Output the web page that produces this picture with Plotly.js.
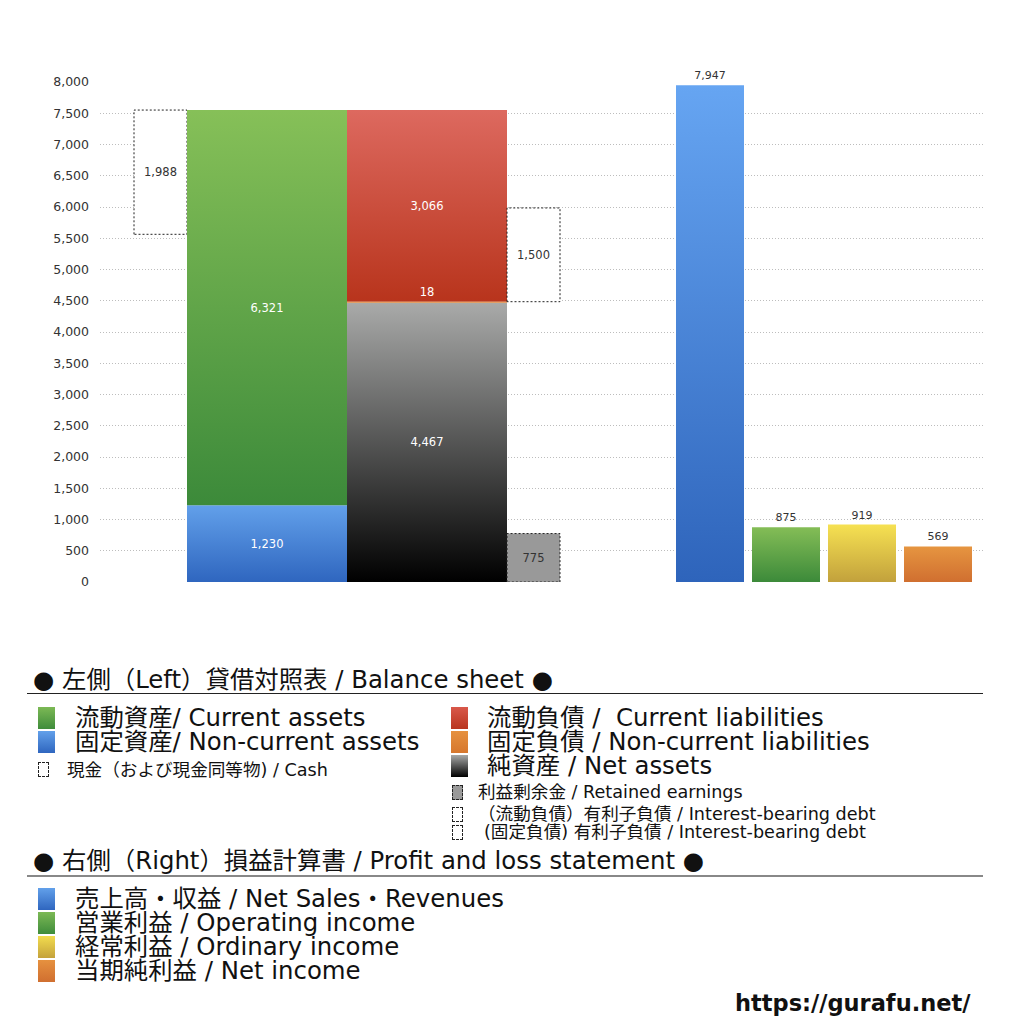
<!DOCTYPE html>
<html>
<head>
<meta charset="utf-8">
<script src="https://cdn.plot.ly/plotly-3.0.1.min.js"></script>
<style>
  body { margin: 0; background: #fff; }
  #wrap { position: relative; width: 1024px; height: 1024px; overflow: hidden;
    font-family: "DejaVu Sans", "Noto Sans CJK JP", sans-serif; color: #111; }
  #chart { position: absolute; left: 0; top: 0; width: 1024px; height: 1024px; }
  .t { position: absolute; white-space: nowrap; }
  .big { font-size: 24.4px; line-height: 24px; height: 24px; }
  .head { font-size: 24.4px; line-height: 26px; }
  .small { font-size: 17.6px; line-height: 18px; height: 18px; }
  .sw { position: absolute; width: 17px; height: 22px; }
  .dsw { position: absolute; width: 11px; height: 15px; border: 1px dashed #222; box-sizing: border-box; }
  .rule { position: absolute; left: 27px; width: 956px; }
</style>
</head>
<body>
<div id="wrap">
  <div id="chart"></div>

  <div class="t head" style="left:33px; top:667px;">● 左側（Left）貸借対照表 / Balance sheet ●</div>
  <div class="rule" style="top:693px; border-top:1px solid #222;"></div>

  <div class="sw" style="left:38px; top:707px; background:linear-gradient(#7cb955,#3f8c3b);"></div>
  <div class="t big" style="left:75px; top:706px;">流動資産/ Current assets</div>
  <div class="sw" style="left:38px; top:731px; background:linear-gradient(#62a0ea,#2f66bf);"></div>
  <div class="t big" style="left:75px; top:730px;">固定資産/ Non-current assets</div>
  <div class="dsw" style="left:38px; top:762px;"></div>
  <div class="t small" style="left:67px; top:761px;">現金（および現金同等物) / Cash</div>

  <div class="sw" style="left:451px; top:707px; background:linear-gradient(#d9584a,#b9351f);"></div>
  <div class="t big" style="left:487px; top:706px;">流動負債 /&nbsp; Current liabilities</div>
  <div class="sw" style="left:451px; top:731px; background:linear-gradient(#e6913f,#d6772e);"></div>
  <div class="t big" style="left:487px; top:730px;">固定負債 / Non-current liabilities</div>
  <div class="sw" style="left:451px; top:755px; background:linear-gradient(#a8a9a8,#000);"></div>
  <div class="t big" style="left:487px; top:754px;">純資産 / Net assets</div>
  <div class="dsw" style="left:452px; top:785px; background:#999;"></div>
  <div class="t small" style="left:478px; top:783px;">利益剰余金 / Retained earnings</div>
  <div class="dsw" style="left:452px; top:807px;"></div>
  <div class="t small" style="left:478px; top:805px;">（流動負債）有利子負債 / Interest-bearing debt</div>
  <div class="dsw" style="left:452px; top:825px;"></div>
  <div class="t small" style="left:484px; top:823px;">(固定負債) 有利子負債 / Interest-bearing debt</div>

  <div class="t head" style="left:33px; top:848px;">● 右側（Right）損益計算書 / Profit and loss statement ●</div>
  <div class="rule" style="top:875px; border-top:2px solid #888;"></div>

  <div class="sw" style="left:38px; top:888px; background:linear-gradient(#62a0ea,#2f66bf);"></div>
  <div class="t big" style="left:75px; top:887px;">売上高・収益 / Net Sales・Revenues</div>
  <div class="sw" style="left:38px; top:912px; background:linear-gradient(#7cb955,#3f8c3b);"></div>
  <div class="t big" style="left:75px; top:911px;">営業利益 / Operating income</div>
  <div class="sw" style="left:38px; top:936px; background:linear-gradient(#f2dc4e,#c4a23c);"></div>
  <div class="t big" style="left:75px; top:935px;">経常利益 / Ordinary income</div>
  <div class="sw" style="left:38px; top:960px; background:linear-gradient(#e6913f,#d06f30);"></div>
  <div class="t big" style="left:75px; top:959px;">当期純利益 / Net income</div>

  <div class="t" style="left:735px; top:990px; font-size:22.5px; font-weight:bold;">https://gurafu.net/</div>
</div>

<script>
/* balance sheet (left) and profit & loss (right) */
const assetNames = ['固定資産', '流動資産'];
const assetValues = [1230, 6321];
const claimNames = ['純資産', '固定負債', '流動負債'];
const claimValues = [4467, 18, 3066];
const cashValue = 1988;
const debtValue = 1500;
const retainedValue = 775;
const plNames = ['売上高・収益', '営業利益', '経常利益', '当期純利益'];
const plValues = [7947, 875, 919, 569];

const FONT = '"DejaVu Sans", "Noto Sans CJK JP", sans-serif';
const fmt = v => v.toLocaleString('en-US');

// x layout in plot pixels (plot area 885 px wide)
const X_CASH = 60.5, W_SIDE = 53;
const X_ASSET = 167, X_CLAIM = 327, W_MAIN = 160;
const X_DEBT = 433.5;
const X_PL0 = 610, PL_STEP = 76, W_PL = 68;

// gradient per trace (top -> bottom); null = flat / dashed box
const grads = [];
const traces = [];

function addBar(name, x, w, base, v, opt) {
  traces.push(Object.assign({
    type: 'bar', name: name, x: [x], y: [v], base: [base], width: [w],
    text: [fmt(v)], textposition: 'inside', insidetextanchor: 'middle',
    textangle: 0, constraintext: 'none', cliponaxis: false,
    textfont: { family: FONT, size: 11.5, color: '#fff' },
    marker: { color: opt.color || '#fff', line: { width: 0 } },
    hoverinfo: 'name+y',
  }, opt.extra || {}));
  grads.push(opt);
}

const assetTotal = assetValues.reduce((a, b) => a + b, 0);
const darkText = { family: FONT, size: 11.5, color: '#333' };

// cash box, aligned to the top of total assets
addBar('現金', X_CASH, W_SIDE, assetTotal - cashValue, cashValue,
  { dashed: true, extra: { textfont: darkText } });

// assets column
const assetGrad = [['#62a0ea', '#2f66bf'], ['#86c058', '#3c8a3a']];
let b = 0;
assetValues.forEach((v, i) => {
  addBar(assetNames[i], X_ASSET, W_MAIN, b, v, { color: assetGrad[i][1], g: assetGrad[i] });
  b += v;
});

// liabilities + net assets column; the thin one is drawn last so its label stays on top
const claimGrad = [['#a9aaa9', '#000000'], null, ['#dd695f', '#b8341c']];
const claimBase = [];
b = 0;
claimValues.forEach(v => { claimBase.push(b); b += v; });
[0, 2, 1].forEach(i => {
  const o = claimGrad[i] ? { color: claimGrad[i][1], g: claimGrad[i] } : { color: '#e0873a' };
  if (!claimGrad[i]) o.extra = { textposition: 'outside', textfont: { family: FONT, size: 11.5, color: '#fff' } };
  addBar(claimNames[i], X_CLAIM, W_MAIN, claimBase[i], claimValues[i], o);
});

// interest-bearing debt box starts at current liabilities
addBar('有利子負債', X_DEBT, W_SIDE, claimBase[2], debtValue,
  { dashed: true, extra: { textfont: darkText } });
addBar('利益剰余金', X_DEBT, W_SIDE, 0, retainedValue,
  { dashed: true, color: '#999', extra: { textfont: darkText } });

// P&L bars
const plGrad = [['#66a5f2', '#2e64bb'], ['#84bd56', '#3c8a3a'], ['#f6e152', '#c2a13c'], ['#e69540', '#d06f30']];
plValues.forEach((v, i) => {
  addBar(plNames[i], X_PL0 + i * PL_STEP, W_PL, 0, v, {
    color: plGrad[i][1], g: plGrad[i],
    extra: { textposition: 'outside', textfont: { family: FONT, size: 11, color: '#333' } },
  });
});

const layout = {
  width: 1024, height: 1024,
  margin: { l: 100, r: 39, t: 82, b: 442 },
  paper_bgcolor: 'rgba(0,0,0,0)', plot_bgcolor: 'rgba(0,0,0,0)',
  barmode: 'overlay', showlegend: false,
  font: { family: FONT, color: '#333' },
  xaxis: { range: [0, 885], visible: false, fixedrange: true },
  yaxis: {
    range: [0, 8000], dtick: 500, tickformat: ',', zeroline: false,
    showgrid: true, gridcolor: '#bdbdbd', griddash: '1px,2px', gridwidth: 1,
    tickfont: { family: FONT, size: 12.5, color: '#333' },
    ticklabelstandoff: 10, fixedrange: true,
  },
};

Plotly.newPlot('chart', traces, layout, { staticPlot: true }).then(gd => {
  const svg = gd.querySelector('.main-svg');
  const NS = 'http://www.w3.org/2000/svg';
  const defs = svg.querySelector('defs');
  const layers = gd.querySelectorAll('.barlayer .trace');
  layers.forEach((layer, i) => {
    const o = grads[i];
    const path = layer.querySelector('.point path');
    if (!path) return;
    if (o.g) {
      const lg = document.createElementNS(NS, 'linearGradient');
      lg.setAttribute('id', 'grad' + i);
      lg.setAttribute('x1', '0'); lg.setAttribute('y1', '0');
      lg.setAttribute('x2', '0'); lg.setAttribute('y2', '1');
      o.g.forEach((c, k) => {
        const s = document.createElementNS(NS, 'stop');
        s.setAttribute('offset', k ? '1' : '0');
        s.setAttribute('stop-color', c);
        lg.appendChild(s);
      });
      defs.appendChild(lg);
      path.style.fill = 'url(#grad' + i + ')';
    }
    if (o.dashed) {
      path.style.stroke = '#222';
      path.style.strokeWidth = '1px';
      path.style.strokeDasharray = '2,2';
      path.style.strokeOpacity = '1';
    }
  });
});
</script>
</body>
</html>
